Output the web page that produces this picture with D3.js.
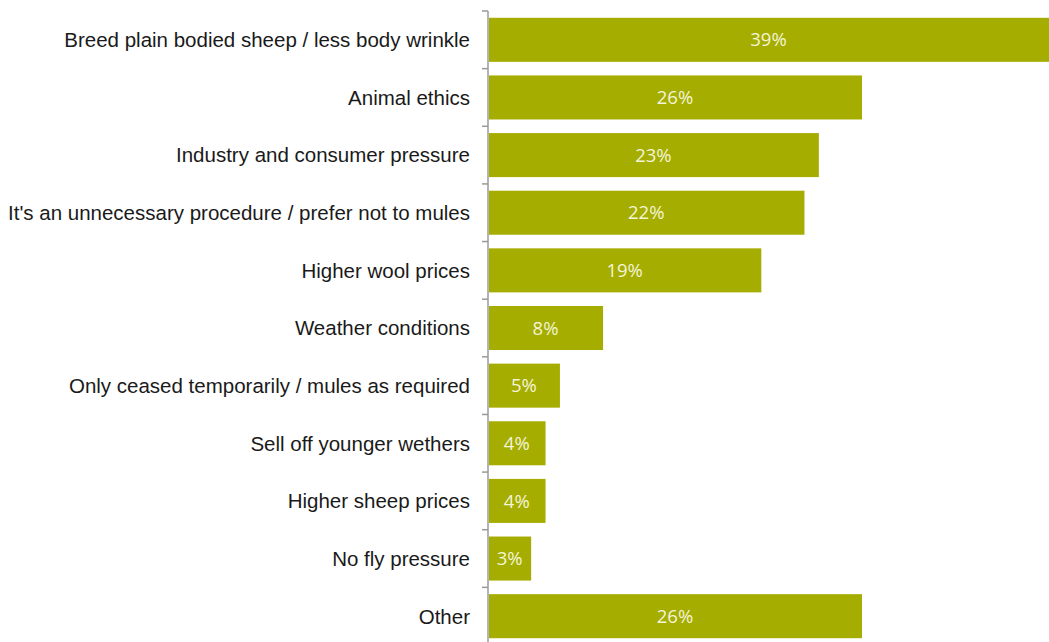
<!DOCTYPE html>
<html>
<head>
<meta charset="utf-8">
<script src="https://cdn.jsdelivr.net/npm/d3@7"></script>
<style>
  html, body { margin: 0; padding: 0; background: #fff; }
  svg { display: block; }
</style>
</head>
<body>
<svg id="chart" width="1049" height="642"></svg>
<script>
// Reasons given for ceasing mulesing (% of respondents)
const categories = [
  "Breed plain bodied sheep / less body wrinkle",
  "Animal ethics",
  "Industry and consumer pressure",
  "It's an unnecessary procedure / prefer not to mules",
  "Higher wool prices",
  "Weather conditions",
  "Only ceased temporarily / mules as required",
  "Sell off younger wethers",
  "Higher sheep prices",
  "No fly pressure",
  "Other"
];
const values = [39, 26, 23, 22, 19, 8, 5, 4, 4, 3, 26];

const svg = d3.select("#chart");
const W = 1049, H = 642;
const x0 = 488;

const x = d3.scaleLinear().domain([0, 39]).range([x0, W]);
const y = d3.scaleBand().domain(categories).range([11, 645]).paddingInner(0.236).paddingOuter(0.118);

const data = categories.map((c, i) => ({ c, v: values[i] }));

svg.append("g").selectAll("rect")
  .data(data).join("rect")
  .attr("x", x(0) + 1)
  .attr("y", d => y(d.c))
  .attr("width", d => x(d.v) - x(0) - 1)
  .attr("height", y.bandwidth())
  .attr("fill", "#a5ad00");

svg.append("g").selectAll("text")
  .data(data).join("text")
  .attr("x", d => (x(0) + x(d.v)) / 2)
  .attr("y", d => y(d.c) + y.bandwidth() / 2)
  .attr("dy", "0.36em")
  .attr("text-anchor", "middle")
  .attr("font-family", "'Open Sans', Lato, sans-serif")
  .attr("font-size", 18.5)
  .attr("fill", "#f4f4d8")
  .text(d => d.v + "%");

// category axis with boundary ticks
const axis = svg.append("g").attr("transform", `translate(${x0},0)`);
axis.append("line")
  .attr("x1", 0).attr("x2", 0)
  .attr("y1", 11).attr("y2", H)
  .attr("stroke", "#9a9a9a").attr("stroke-width", 1.5);
const bounds = d3.range(categories.length).map(i => y.range()[0] + i * y.step());
axis.selectAll(".tk").data(bounds).join("line")
  .attr("x1", -6).attr("x2", 0)
  .attr("y1", d => d).attr("y2", d => d)
  .attr("stroke", "#9a9a9a").attr("stroke-width", 1.5);

svg.append("g").selectAll("text")
  .data(categories).join("text")
  .attr("x", 470)
  .attr("y", d => y(d) + y.bandwidth() / 2)
  .attr("dy", "0.36em")
  .attr("text-anchor", "end")
  .attr("font-family", "'Liberation Sans', Arial, sans-serif")
  .attr("font-size", 20.5)
  .attr("fill", "#1a1a1a")
  .text(d => d);
</script>
</body>
</html>
